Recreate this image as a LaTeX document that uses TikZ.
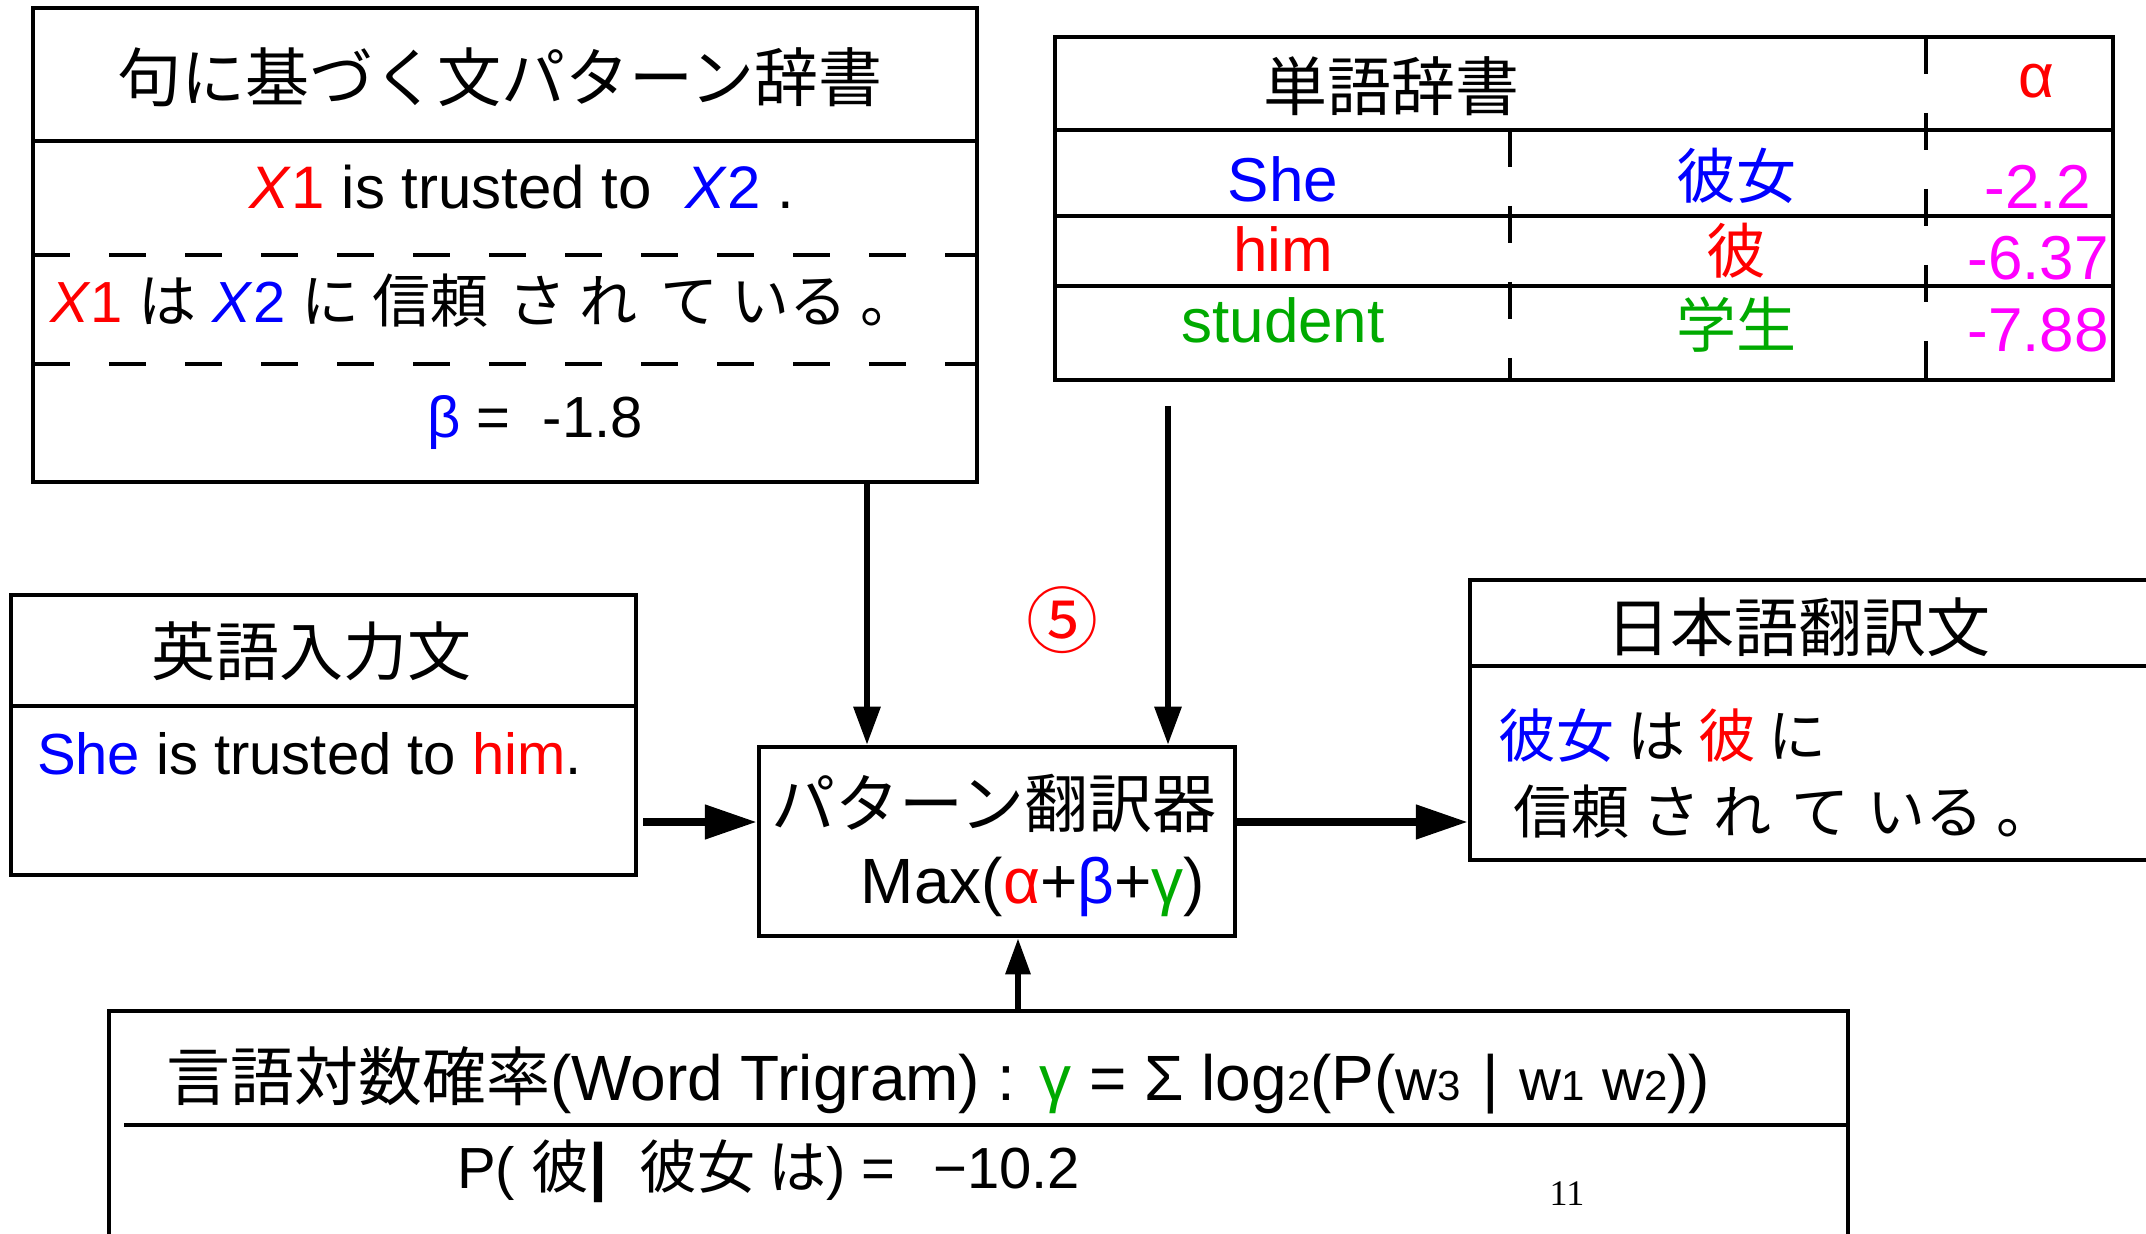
\documentclass[tikz,border=0pt]{standalone}
\usepackage{fontspec}
\setmainfont{Liberation Sans}
\newfontfamily\jp{Noto Sans CJK JP}
\newfontfamily\serifnum{Liberation Serif}
\usetikzlibrary{arrows.meta,fit}
\definecolor{mygreen}{RGB}{0,170,0}
\definecolor{mymag}{RGB}{255,0,255}
\newcommand\fsz[1]{\fontsize{#1pt}{#1pt}\selectfont}
\begin{document}
\begin{tikzpicture}[x=0.5pt,y=-0.5pt,
  box/.style={draw, line width=2.25pt, inner sep=0pt},
  boxline/.style={line width=2.25pt},
  dashline/.style={line width=2.25pt, dash pattern=on 18.5pt off 19.5pt},
  txt/.style={inner sep=0pt, outer sep=0pt},
  arrV/.style={line width=3pt, -{Triangle[length=19pt,width=13pt]}},
  arrH/.style={line width=4pt, -{Triangle[length=26pt,width=16.5pt]}},
  arrU/.style={line width=3pt, -{Triangle[length=18pt,width=12pt]}}]
\useasboundingbox (0,0) rectangle (2146,1234);
\clip (0,0) rectangle (2146,1234);

% ---- pattern dictionary
\node[box, fit={(33,8) (977,482)}] (pdict) {};
\draw[boxline] (33,141) -- (977,141);
\draw[dashline] (33,255) -- (977,255);
\draw[dashline] (33,364) -- (977,364);
\node[txt] (pdtitle) at (500,77) {\jp\fsz{32}句に基づく文パターン辞書};
\node[txt, anchor=base] (pden) at (522,209) {\fsz{30}\textcolor{red}{\textit{X}1} is trusted to \ \textcolor{blue}{\textit{X}2} .};
\node[txt, anchor=base west] (pdja) at (50,323) {\fsz{29}\textcolor{red}{\textit{X}1} {\jp は} \textcolor{blue}{\textit{X}2} {\jp に 信頼\hspace{3.5pt} さ れ\hspace{5pt} て いる 。}};
\node[txt, anchor=base] (pdbeta) at (535,438) {\fsz{29}\textcolor{blue}{β} = \ -1.8};

% ---- word dictionary
\node[box, fit={(1055,37) (2113,380)}] (wdict) {};
\draw[boxline] (1055,130) -- (2113,130);
\draw[boxline] (1055,216) -- (2113,216);
\draw[boxline] (1055,286) -- (2113,286);
\draw[dashline] (1510,130) -- (1510,380);
\draw[dashline] (1926,37) -- (1926,380);
\node[txt] (wdtitle) at (1391,86) {\jp\fsz{32}単語辞書};
\node[txt, anchor=base] (alpha) at (2036,98) {\fsz{31}\textcolor{red}{α}};
\node[txt, anchor=base] (she) at (1283,202) {\fsz{31}\textcolor{blue}{She}};
\node[txt] (kanojo) at (1736,176) {\jp\fsz{30}\textcolor{blue}{彼女}};
\node[txt, anchor=base] (v1) at (2038,209) {\fsz{31}\textcolor{mymag}{-2.2}};
\node[txt, anchor=base] (him) at (1283,272) {\fsz{31}\textcolor{red}{him}};
\node[txt] (kare) at (1736,251) {\jp\fsz{30}\textcolor{red}{彼}};
\node[txt, anchor=base] (v2) at (2038,280) {\fsz{31}\textcolor{mymag}{-6.37}};
\node[txt, anchor=base] (student) at (1283,343) {\fsz{31}\textcolor{mygreen}{student}};
\node[txt] (gakusei) at (1736,325) {\jp\fsz{30}\textcolor{mygreen}{学生}};
\node[txt, anchor=base] (v3) at (2038,352) {\fsz{31}\textcolor{mymag}{-7.88}};

% ---- English input
\node[box, fit={(11,595) (636,875)}] (eng) {};
\draw[boxline] (11,706) -- (636,706);
\node[txt] (engtitle) at (311,651) {\jp\fsz{32}英語入力文};
\node[txt, anchor=base west] (engtext) at (37,774) {\fsz{29}\textcolor{blue}{She} is trusted to \textcolor{red}{him}.};

% ---- pattern translator
\node[box, fit={(759,747) (1235,936)}] (ptrans) {};
\node[txt] (pttitle) at (994,803) {\jp\fsz{32}パターン翻訳器};
\node[txt, anchor=base] (ptmax) at (1033,903) {\fsz{32}Max(\textcolor{red}{α}+\textcolor{blue}{β}+\textcolor{mygreen}{γ})};

% ---- circled number
\node[txt] (num5) at (1062,620) {\jp\fsz{36}\textcolor{red}{⑤}};

% ---- Japanese output
\node[box, fit={(1470,580) (2170,860)}] (out) {};
\draw[boxline] (1470,666) -- (2170,666);
\node[txt] (outtitle) at (1798,627) {\jp\fsz{32}日本語翻訳文};
\node[txt, anchor=west] (outl1) at (1498,736) {\jp\fsz{29}\textcolor{blue}{彼女} は \textcolor{red}{彼} に};
\node[txt, anchor=west] (outl2) at (1513,812) {\jp\fsz{29}信頼 さ れ\hspace{4pt} て\hspace{2.5pt} いる 。};

% ---- language model
\node[box, fit={(109,1011) (1848,1270)}] (lm) {};
\draw[boxline] (124,1125) -- (1848,1125);
\node[txt, anchor=base west] (lmtitle) at (166,1100) {\fsz{32}{\jp 言語対数確率}(Word Trigram) : \textcolor{mygreen}{γ} = Σ log{\fsz{21}2}(P({\fsz{29}w\fsz{21}3}\hspace{2pt} | \hspace{1pt}{\fsz{29}w\fsz{21}1} {\fsz{29}w\fsz{21}2}))};
\node[txt, anchor=base west] (lmex) at (457,1188) {\fsz{29}P( {\jp 彼}{\fsz{32}\bfseries |}\hspace{8pt} {\jp 彼女 は}) =\hspace{11pt} −10.2};
\node[txt] (pageno) at (1567,1194) {\serifnum\fsz{18}11};

% ---- connectors
\coordinate (cx1) at (867,0);
\coordinate (wdout) at (1168,406);
\coordinate (cy) at (0,822);
\coordinate (cx4) at (1018,0);
\draw[arrV] (pdict.south -| cx1) -- (ptrans.north -| cx1);
\draw[arrV] (wdout) -- (wdout |- ptrans.north);
\draw[arrH, shorten <=2.5pt] (eng.east |- cy) -- (ptrans.west |- cy);
\draw[arrH] (ptrans.east |- cy) -- (out.west |- cy);
\draw[arrU] (lm.north -| cx4) -- (ptrans.south -| cx4);
\end{tikzpicture}
\end{document}
